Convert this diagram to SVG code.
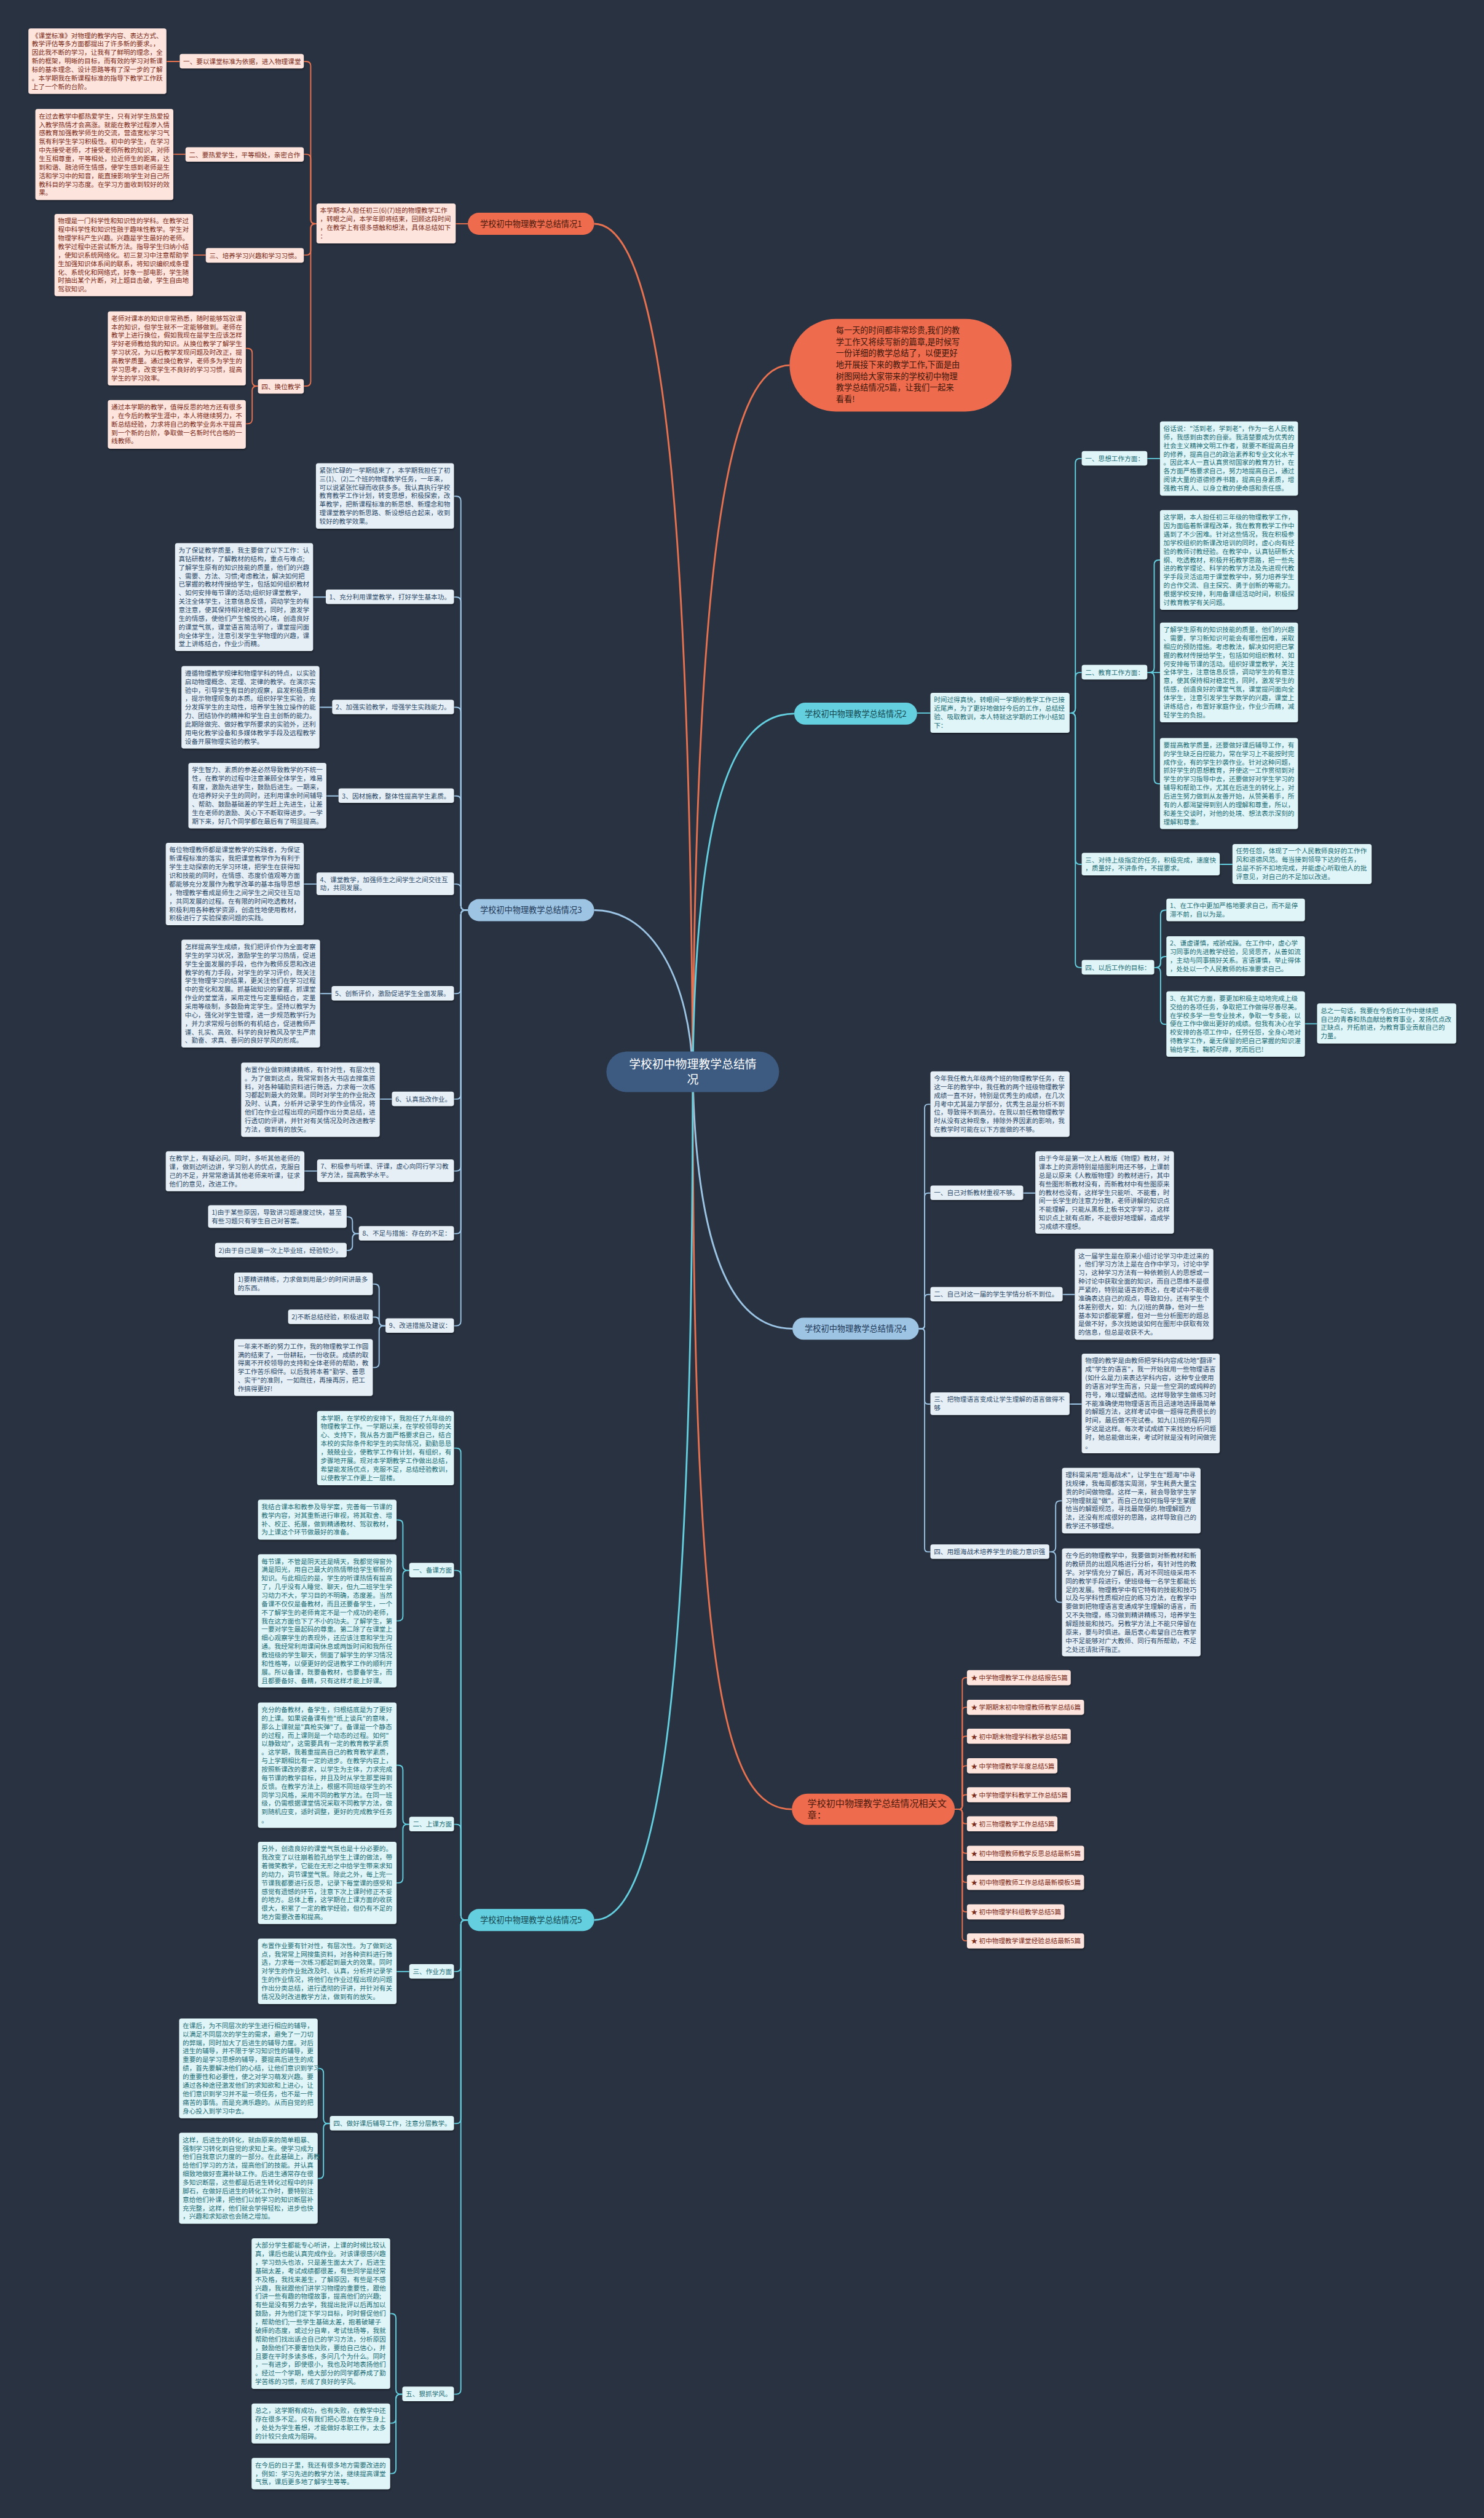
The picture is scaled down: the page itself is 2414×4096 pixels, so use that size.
<svg xmlns="http://www.w3.org/2000/svg" width="2414" height="4096" viewBox="0 0 2414 4096">
<defs><filter id="sh" x="-5%" y="-5%" width="112%" height="120%"><feDropShadow dx="1" dy="2" stdDeviation="1.5" flood-color="#000" flood-opacity="0.35"/></filter></defs>
<style>
text{font-family:"Noto Sans CJK SC","Noto Sans",sans-serif;font-size:11.3px}
.o{fill:#fde4dc;filter:url(#sh)}.ot{fill:#7a2b19}
.c{fill:#dff5f7;filter:url(#sh)}.ct{fill:#1d6c75}
.b{fill:#e7eff6;filter:url(#sh)}.bt{fill:#2c4a68}
.lo{fill:none;stroke:#e8714f;stroke-width:2}
.lc{fill:none;stroke:#63cfdf;stroke-width:2}
.lb{fill:none;stroke:#9cc4e4;stroke-width:2}
.mo{fill:none;stroke:#e8714f;stroke-width:3}
.mc{fill:none;stroke:#63cfdf;stroke-width:3}
.mb{fill:none;stroke:#9cc4e4;stroke-width:3}
.nt{font-size:14px;text-anchor:middle}
</style>
<rect width="2414" height="4096" fill="#293241"/>
<g transform="scale(0.943)">
<g id="connectors">
<path class="mo" d="M1195,1849 C1190,950 1150,386 1025,386"/>
<path class="mo" d="M1195,1849 C1200,1000 1250,630 1362,630"/>
<path class="mc" d="M1195,1849 C1200,1400 1260,1231 1370,1231"/>
<path class="mb" d="M1195,1849 C1190,1700 1130,1570 1025,1570"/>
<path class="mb" d="M1195,1849 C1200,2150 1260,2292 1367,2292"/>
<path class="mo" d="M1195,1849 C1195,2900 1250,3121 1366,3121"/>
<path class="mc" d="M1195,1849 C1195,2900 1140,3312 1025,3312"/>
<path class="lo" d="M807,386 H786"/>
<path class="lo" d="M546,386 L544,386 Q536,386 536,378 L536,114 Q536,106 528,106 L524,106"/>
<path class="lo" d="M546,386 L544,386 Q536,386 536,378 L536,274 Q536,266 528,266 L524,266"/>
<path class="lo" d="M546,386 L544,386 Q536,386 536,394 L536,432 Q536,440 528,440 L524,440"/>
<path class="lo" d="M546,386 L544,386 Q536,386 536,394 L536,658 Q536,666 528,666 L524,666"/>
<path class="lo" d="M310,106 H287 M320,266 H299 M355,440 H333"/>
<path class="lo" d="M445,666 L443,666 Q435,666 435,658 L435,609 Q435,601 427,601 L424,601"/>
<path class="lo" d="M445,666 L443,666 Q435,666 435,674 L435,723 Q435,731 427,731 L424,731"/>
<path class="lc" d="M1582,1230 H1605"/>
<path class="lc" d="M1845,1230 L1847,1230 Q1855,1230 1855,1222 L1855,799 Q1855,791 1863,791 L1866,791"/>
<path class="lc" d="M1845,1230 L1847,1230 Q1855,1230 1855,1222 L1855,1168 Q1855,1160 1863,1160 L1866,1160"/>
<path class="lc" d="M1845,1230 L1847,1230 Q1855,1230 1855,1238 L1855,1483 Q1855,1491 1863,1491 L1866,1491"/>
<path class="lc" d="M1845,1230 L1847,1230 Q1855,1230 1855,1238 L1855,1661 Q1855,1669 1863,1669 L1866,1669"/>
<path class="lc" d="M1979,791 H2001 M1979,1160 H2001 M2104,1491 H2126 M2251,1766 H2272"/>
<path class="lc" d="M1979,1160 L1983,1160 Q1991,1160 1991,1152 L1991,974 Q1991,966 1999,966 L2001,966"/>
<path class="lc" d="M1979,1160 L1983,1160 Q1991,1160 1991,1168 L1991,1344 Q1991,1352 1999,1352 L2001,1352"/>
<path class="lc" d="M1991,1669 L1994,1669 Q2002,1669 2002,1661 L2002,1578 Q2002,1570 2010,1570 L2012,1570"/>
<path class="lc" d="M1991,1669 L1994,1669 Q2002,1669 2002,1661 L2002,1658 Q2002,1650 2010,1650 L2012,1650"/>
<path class="lc" d="M1991,1669 L1994,1669 Q2002,1669 2002,1677 L2002,1759 Q2002,1767 2010,1767 L2012,1767"/>
<path class="lb" d="M1585,2292 L1589,2292 Q1595,2292 1595,2286 L1595,1911 Q1595,1905 1601,1905 L1605,1905"/>
<path class="lb" d="M1585,2292 L1589,2292 Q1595,2292 1595,2286 L1595,2064 Q1595,2058 1601,2058 L1605,2058"/>
<path class="lb" d="M1585,2292 L1589,2292 Q1595,2292 1595,2286 L1595,2239 Q1595,2233 1601,2233 L1605,2233"/>
<path class="lb" d="M1585,2292 L1589,2292 Q1595,2292 1595,2298 L1595,2416 Q1595,2422 1601,2422 L1605,2422"/>
<path class="lb" d="M1585,2292 L1589,2292 Q1595,2292 1595,2298 L1595,2671 Q1595,2677 1601,2677 L1605,2677"/>
<path class="lb" d="M1765,2058 H1786 M1833,2233 H1854 M1845,2422 H1866"/>
<path class="lb" d="M1810,2677 L1813,2677 Q1821,2677 1821,2669 L1821,2597 Q1821,2589 1829,2589 L1832,2589"/>
<path class="lb" d="M1810,2677 L1813,2677 Q1821,2677 1821,2685 L1821,2756 Q1821,2764 1829,2764 L1832,2764"/>
<path class="lo" d="M1647,3121 L1654,3121 Q1660,3121 1660,3115 L1660,2900 Q1660,2894 1666,2894 L1668,2894"/>
<path class="lo" d="M1647,3121 L1654,3121 Q1660,3121 1660,3115 L1660,2951 Q1660,2945 1666,2945 L1668,2945"/>
<path class="lo" d="M1647,3121 L1654,3121 Q1660,3121 1660,3115 L1660,3001 Q1660,2995 1666,2995 L1668,2995"/>
<path class="lo" d="M1647,3121 L1654,3121 Q1660,3121 1660,3115 L1660,3052 Q1660,3046 1666,3046 L1668,3046"/>
<path class="lo" d="M1647,3121 L1654,3121 Q1660,3121 1660,3115 L1660,3102 Q1660,3096 1666,3096 L1668,3096"/>
<path class="lo" d="M1647,3121 L1654,3121 Q1660,3121 1660,3127 L1660,3140 Q1660,3146 1666,3146 L1668,3146"/>
<path class="lo" d="M1647,3121 L1654,3121 Q1660,3121 1660,3127 L1660,3191 Q1660,3197 1666,3197 L1668,3197"/>
<path class="lo" d="M1647,3121 L1654,3121 Q1660,3121 1660,3127 L1660,3241 Q1660,3247 1666,3247 L1668,3247"/>
<path class="lo" d="M1647,3121 L1654,3121 Q1660,3121 1660,3127 L1660,3292 Q1660,3298 1666,3298 L1668,3298"/>
<path class="lo" d="M1647,3121 L1654,3121 Q1660,3121 1660,3127 L1660,3342 Q1660,3348 1666,3348 L1668,3348"/>
<path class="lb" d="M807,1570 L803,1570 Q795,1570 795,1562 L795,864 Q795,856 787,856 L783,856"/>
<path class="lb" d="M807,1570 L803,1570 Q795,1570 795,1562 L795,1038 Q795,1030 787,1030 L783,1030"/>
<path class="lb" d="M807,1570 L803,1570 Q795,1570 795,1562 L795,1228 Q795,1220 787,1220 L783,1220"/>
<path class="lb" d="M807,1570 L803,1570 Q795,1570 795,1562 L795,1381 Q795,1373 787,1373 L783,1373"/>
<path class="lb" d="M807,1570 L803,1570 Q795,1570 795,1562 L795,1533 Q795,1525 787,1525 L783,1525"/>
<path class="lb" d="M807,1570 L803,1570 Q795,1570 795,1578 L795,1706 Q795,1714 787,1714 L783,1714"/>
<path class="lb" d="M807,1570 L803,1570 Q795,1570 795,1578 L795,1888 Q795,1896 787,1896 L783,1896"/>
<path class="lb" d="M807,1570 L803,1570 Q795,1570 795,1578 L795,2012 Q795,2020 787,2020 L783,2020"/>
<path class="lb" d="M807,1570 L803,1570 Q795,1570 795,1578 L795,2120 Q795,2128 787,2128 L783,2128"/>
<path class="lb" d="M807,1570 L803,1570 Q795,1570 795,1578 L795,2279 Q795,2287 787,2287 L783,2287"/>
<path class="lb" d="M562,1030 H540 M573,1220 H551 M584,1373 H563 M546,1525 H524 M572,1714 H552 M676,1896 H655 M547,2020 H525"/>
<path class="lb" d="M619,2128 L616,2128 Q608,2128 608,2120 L608,2107 Q608,2099 600,2099 L598,2099"/>
<path class="lb" d="M619,2128 L616,2128 Q608,2128 608,2136 L608,2149 Q608,2157 600,2157 L598,2157"/>
<path class="lb" d="M665,2287 L662,2287 Q654,2287 654,2279 L654,2223 Q654,2215 646,2215 L643,2215"/>
<path class="lb" d="M665,2287 L661,2287 Q654,2287 654,2280 Q654,2272 647,2272 L643,2272"/>
<path class="lb" d="M665,2287 L662,2287 Q654,2287 654,2295 L654,2351 Q654,2359 646,2359 L643,2359"/>
<path class="lc" d="M807,3312 L803,3312 Q795,3312 795,3304 L795,2506 Q795,2498 787,2498 L783,2498"/>
<path class="lc" d="M807,3312 L803,3312 Q795,3312 795,3304 L795,2717 Q795,2709 787,2709 L783,2709"/>
<path class="lc" d="M807,3312 L803,3312 Q795,3312 795,3304 L795,3155 Q795,3147 787,3147 L783,3147"/>
<path class="lc" d="M807,3312 L803,3312 Q795,3312 795,3320 L795,3393 Q795,3401 787,3401 L783,3401"/>
<path class="lc" d="M807,3312 L803,3312 Q795,3312 795,3320 L795,3655 Q795,3663 787,3663 L783,3663"/>
<path class="lc" d="M807,3312 L803,3312 Q795,3312 795,3320 L795,4122 Q795,4130 787,4130 L783,4130"/>
<path class="lc" d="M706,2709 L703,2709 Q695,2709 695,2701 L695,2630 Q695,2622 687,2622 L684,2622"/>
<path class="lc" d="M706,2709 L703,2709 Q695,2709 695,2717 L695,2788 Q695,2796 687,2796 L684,2796"/>
<path class="lc" d="M706,3147 L703,3147 Q695,3147 695,3139 L695,3053 Q695,3045 687,3045 L684,3045"/>
<path class="lc" d="M706,3147 L703,3147 Q695,3147 695,3155 L695,3240 Q695,3248 687,3248 L684,3248"/>
<path class="lc" d="M706,3401 H684"/>
<path class="lc" d="M569,3663 L566,3663 Q558,3663 558,3655 L558,3576 Q558,3568 550,3568 L548,3568"/>
<path class="lc" d="M569,3663 L566,3663 Q558,3663 558,3671 L558,3750 Q558,3758 550,3758 L548,3758"/>
<path class="lc" d="M694,4130 L691,4130 Q683,4130 683,4122 L683,3999 Q683,3991 675,3991 L673,3991"/>
<path class="lc" d="M694,4130 L691,4130 Q683,4130 683,4138 L683,4172 Q683,4180 675,4180 L673,4180"/>
<path class="lc" d="M694,4130 L691,4130 Q683,4130 683,4138 L683,4259 Q683,4267 675,4267 L673,4267"/>
</g>

<g id="center"><rect x="1046" y="1814" width="298" height="70" rx="35" fill="#3d5a80"/><text x="1195" y="1843" text-anchor="middle" fill="#ffffff" style="font-size:20px">学校初中物理教学总结情<tspan x="1195" dy="27">况</tspan></text></g>

<g id="intro"><rect x="1362" y="550" width="383" height="160" rx="80" fill="#ee6c4d"/><text x="1442" y="575" fill="#3b160c" style="font-size:14px"><tspan x="1442">每一天的时间都非常珍贵,我们的教</tspan><tspan x="1442" dy="19.7">学工作又将续写新的篇章,是时候写</tspan><tspan x="1442" dy="19.7">一份详细的教学总结了，以便更好</tspan><tspan x="1442" dy="19.7">地开展接下来的教学工作,下面是由</tspan><tspan x="1442" dy="19.7">树图网给大家带来的学校初中物理</tspan><tspan x="1442" dy="19.7">教学总结情况5篇，让我们一起来</tspan><tspan x="1442" dy="19.7">看看!</tspan></text></g>

<g id="b1"><rect x="807" y="367" width="218" height="38" rx="19" fill="#ee6c4d"/><text class="nt" x="916" y="391" fill="#4a1a0e">学校初中物理教学总结情况1</text></g>
<g id="b1_intro"><rect class="o" x="546" y="351" width="240" height="69" rx="4"/><text class="ot" x="552" y="367.3"><tspan x="552">本学期本人担任初三(6)(7)班的物理教学工作</tspan><tspan x="552" dy="14.7">，转眼之间，本学年即将结束，回顾这段时间</tspan><tspan x="552" dy="14.7">，在教学上有很多感触和想法，具体总结如下</tspan><tspan x="552" dy="14.7">：</tspan></text></g>
<g id="b1_1"><rect class="o" x="310" y="93" width="214" height="25" rx="4"/><text class="ot" x="316" y="110">一、要以课堂标准为依据，进入物理课堂</text></g>
<g id="b1_2"><rect class="o" x="320" y="254" width="204" height="25" rx="4"/><text class="ot" x="326" y="271">二、要热爱学生，平等相处，亲密合作</text></g>
<g id="b1_3"><rect class="o" x="355" y="428" width="169" height="25" rx="4"/><text class="ot" x="361" y="445">三、培养学习兴趣和学习习惯。</text></g>
<g id="b1_4"><rect class="o" x="445" y="654" width="79" height="25" rx="4"/><text class="ot" x="451" y="671">四、换位教学</text></g>
<g id="b1_1c"><rect class="o" x="49" y="49" width="238" height="113" rx="4"/><text class="ot" x="55" y="65.3"><tspan x="55">《课堂标准》对物理的教学内容、表达方式、</tspan><tspan x="55" dy="14.7">教学评估等多方面都提出了许多新的要求。，</tspan><tspan x="55" dy="14.7">因此我不断的学习，让我有了鲜明的理念，全</tspan><tspan x="55" dy="14.7">新的框架，明晰的目标，而有效的学习对新课</tspan><tspan x="55" dy="14.7">标的基本理念、设计思路等有了深一步的了解</tspan><tspan x="55" dy="14.7">。本学期我在新课程标准的指导下教学工作跃</tspan><tspan x="55" dy="14.7">上了一个新的台阶。</tspan></text></g>
<g id="b1_2c"><rect class="o" x="61" y="188" width="238" height="157" rx="4"/><text class="ot" x="67" y="204.3"><tspan x="67">在过去教学中都热爱学生，只有对学生热爱投</tspan><tspan x="67" dy="14.7">入教学热情才会高涨。就能在教学过程渗入情</tspan><tspan x="67" dy="14.7">感教育加强教学师生的交流，营造宽松学习气</tspan><tspan x="67" dy="14.7">氛有利学生学习积极性。初中的学生，在学习</tspan><tspan x="67" dy="14.7">中先接受老师，才接受老师所教的知识，对师</tspan><tspan x="67" dy="14.7">生互相尊重，平等相处，拉近师生的距离，达</tspan><tspan x="67" dy="14.7">到和谐、融洽师生情感，使学生感到老师是生</tspan><tspan x="67" dy="14.7">活和学习中的知音，能直接影响学生对自己所</tspan><tspan x="67" dy="14.7">教科目的学习态度。在学习方面收到较好的效</tspan><tspan x="67" dy="14.7">果。</tspan></text></g>
<g id="b1_3c"><rect class="o" x="94" y="369" width="239" height="142" rx="4"/><text class="ot" x="100" y="385.3"><tspan x="100">物理是一门科学性和知识性的学科。在教学过</tspan><tspan x="100" dy="14.7">程中科学性和知识性融于趣味性教学。学生对</tspan><tspan x="100" dy="14.7">物理学科产生兴趣。兴趣是学生最好的老师。</tspan><tspan x="100" dy="14.7">教学过程中还尝试新方法。指导学生归纳小结</tspan><tspan x="100" dy="14.7">，使知识系统网络化。初三复习中注意帮助学</tspan><tspan x="100" dy="14.7">生加强知识体系间的联系，将知识编织成条理</tspan><tspan x="100" dy="14.7">化、系统化和网络式，好象一部电影，学生随</tspan><tspan x="100" dy="14.7">时抽出某个片断，对上题目击破，学生自由地</tspan><tspan x="100" dy="14.7">驾驭知识。</tspan></text></g>
<g id="b1_4c1"><rect class="o" x="186" y="537" width="238" height="128" rx="4"/><text class="ot" x="192" y="553.3"><tspan x="192">老师对课本的知识非常熟悉，随时能够驾驭课</tspan><tspan x="192" dy="14.7">本的知识，但学生就不一定能够做到。老师在</tspan><tspan x="192" dy="14.7">教学上进行换位，假如我现在是学生应该怎样</tspan><tspan x="192" dy="14.7">学好老师教给我的知识。从换位教学了解学生</tspan><tspan x="192" dy="14.7">学习状况，为以后教学发现问题及时改正，提</tspan><tspan x="192" dy="14.7">高教学质量。通过换位教学，老师多为学生的</tspan><tspan x="192" dy="14.7">学习思考，改变学生不良好的学习习惯，提高</tspan><tspan x="192" dy="14.7">学生的学习效率。</tspan></text></g>
<g id="b1_4c2"><rect class="o" x="186" y="690" width="238" height="84" rx="4"/><text class="ot" x="192" y="706.3"><tspan x="192">通过本学期的教学，值得反思的地方还有很多</tspan><tspan x="192" dy="14.7">，在今后的教学生涯中，本人将继续努力，不</tspan><tspan x="192" dy="14.7">断总结经验，力求将自己的教学业务水平提高</tspan><tspan x="192" dy="14.7">到一个新的台阶，争取做一名新时代合格的一</tspan><tspan x="192" dy="14.7">线教师。</tspan></text></g>

<g id="b2"><rect x="1370" y="1212" width="212" height="38" rx="19" fill="#63cfdf"/><text class="nt" x="1476" y="1236" fill="#174850">学校初中物理教学总结情况2</text></g>
<g id="b2_intro"><rect class="c" x="1605" y="1195" width="240" height="69" rx="4"/><text class="ct" x="1611" y="1211.3"><tspan x="1611">时间过得真快，转眼间一学期的教学工作已接</tspan><tspan x="1611" dy="14.7">近尾声，为了更好地做好今后的工作，总结经</tspan><tspan x="1611" dy="14.7">验、吸取教训，本人特就这学期的工作小结如</tspan><tspan x="1611" dy="14.7">下：</tspan></text></g>
<g id="b2_1"><rect class="c" x="1866" y="778" width="113" height="25" rx="4"/><text class="ct" x="1872" y="795">一、思想工作方面：</text></g>
<g id="b2_1c"><rect class="c" x="2001" y="727" width="238" height="128" rx="4"/><text class="ct" x="2007" y="743.3"><tspan x="2007">俗话说："活到老，学到老"，作为一名人民教</tspan><tspan x="2007" dy="14.7">师，我感到由衷的自豪。我清楚要成为优秀的</tspan><tspan x="2007" dy="14.7">社会主义精神文明工作者，就要不断提高自身</tspan><tspan x="2007" dy="14.7">的修养，提高自己的政治素养和专业文化水平</tspan><tspan x="2007" dy="14.7">。因此本人一直认真贯彻国家的教育方针，在</tspan><tspan x="2007" dy="14.7">各方面严格要求自己，努力地提高自己，通过</tspan><tspan x="2007" dy="14.7">阅读大量的道德修养书籍，提高自身素质，增</tspan><tspan x="2007" dy="14.7">强教书育人、以身立教的使命感和责任感。</tspan></text></g>
<g id="b2_2"><rect class="c" x="1866" y="1147" width="113" height="25" rx="4"/><text class="ct" x="1872" y="1164">二、教育工作方面：</text></g>
<g id="b2_2c1"><rect class="c" x="2001" y="880" width="238" height="172" rx="4"/><text class="ct" x="2007" y="896.3"><tspan x="2007">这学期，本人担任初三年级的物理教学工作，</tspan><tspan x="2007" dy="14.7">因为面临着新课程改革，我在教育教学工作中</tspan><tspan x="2007" dy="14.7">遇到了不少困难。针对这些情况，我在积极参</tspan><tspan x="2007" dy="14.7">加学校组织的新课改培训的同时，虚心向有经</tspan><tspan x="2007" dy="14.7">验的教师讨教经验。在教学中，认真钻研新大</tspan><tspan x="2007" dy="14.7">纲、吃透教材，积极开拓教学思路，把一些先</tspan><tspan x="2007" dy="14.7">进的教学理论、科学的教学方法及先进现代教</tspan><tspan x="2007" dy="14.7">学手段灵活运用于课堂教学中，努力培养学生</tspan><tspan x="2007" dy="14.7">的合作交流、自主探究、勇于创新的等能力。</tspan><tspan x="2007" dy="14.7">根据学校安排，利用备课组活动时间，积极探</tspan><tspan x="2007" dy="14.7">讨教育教学有关问题。</tspan></text></g>
<g id="b2_2c2"><rect class="c" x="2001" y="1074" width="238" height="172" rx="4"/><text class="ct" x="2007" y="1090.3"><tspan x="2007">了解学生原有的知识技能的质量，他们的兴趣</tspan><tspan x="2007" dy="14.7">、需要，学习新知识可能会有哪些困难，采取</tspan><tspan x="2007" dy="14.7">相应的预防措施。考虑教法，解决如何把已掌</tspan><tspan x="2007" dy="14.7">握的教材传授给学生，包括如何组织教材、如</tspan><tspan x="2007" dy="14.7">何安排每节课的活动。组织好课堂教学，关注</tspan><tspan x="2007" dy="14.7">全体学生，注意信息反馈，调动学生的有意注</tspan><tspan x="2007" dy="14.7">意，使其保持相对稳定性，同时，激发学生的</tspan><tspan x="2007" dy="14.7">情感，创造良好的课堂气氛，课堂提问面向全</tspan><tspan x="2007" dy="14.7">体学生，注意引发学生学数学的兴趣，课堂上</tspan><tspan x="2007" dy="14.7">讲练结合，布置好家庭作业，作业少而精，减</tspan><tspan x="2007" dy="14.7">轻学生的负担。</tspan></text></g>
<g id="b2_2c3"><rect class="c" x="2001" y="1273" width="238" height="157" rx="4"/><text class="ct" x="2007" y="1289.3"><tspan x="2007">要提高教学质量，还要做好课后辅导工作，有</tspan><tspan x="2007" dy="14.7">的学生缺乏自控能力，常在学习上不能按时完</tspan><tspan x="2007" dy="14.7">成作业，有的学生抄袭作业。针对这种问题，</tspan><tspan x="2007" dy="14.7">抓好学生的思想教育，并使这一工作贯彻到对</tspan><tspan x="2007" dy="14.7">学生的学习指导中去，还要做好对学生学习的</tspan><tspan x="2007" dy="14.7">辅导和帮助工作，尤其在后进生的转化上，对</tspan><tspan x="2007" dy="14.7">后进生努力做到从友善开始，从赞美着手，所</tspan><tspan x="2007" dy="14.7">有的人都渴望得到别人的理解和尊重，所以，</tspan><tspan x="2007" dy="14.7">和差生交谈时，对他的处境、想法表示深刻的</tspan><tspan x="2007" dy="14.7">理解和尊重。</tspan></text></g>
<g id="b2_3"><rect class="c" x="1866" y="1471" width="238" height="39" rx="4"/><text class="ct" x="1872" y="1487.3"><tspan x="1872">三、对待上级指定的任务，积极完成，速度快</tspan><tspan x="1872" dy="14.7">，质量好，不讲条件，不提要求。</tspan></text></g>
<g id="b2_3c"><rect class="c" x="2126" y="1456" width="240" height="69" rx="4"/><text class="ct" x="2132" y="1472.3"><tspan x="2132">任劳任怨，体现了一个人民教师良好的工作作</tspan><tspan x="2132" dy="14.7">风和道德风范。每当接到领导下达的任务，</tspan><tspan x="2132" dy="14.7">总是不折不扣地完成，并能虚心听取他人的批</tspan><tspan x="2132" dy="14.7">评意见，对自己的不足加以改进。</tspan></text></g>
<g id="b2_4"><rect class="c" x="1866" y="1656" width="125" height="25" rx="4"/><text class="ct" x="1872" y="1673">四、以后工作的目标：</text></g>
<g id="b2_4c1"><rect class="c" x="2012" y="1550" width="239" height="39" rx="4"/><text class="ct" x="2018" y="1566.3"><tspan x="2018">1、在工作中更加严格地要求自己，而不是停</tspan><tspan x="2018" dy="14.7">滞不前，自以为是。</tspan></text></g>
<g id="b2_4c2"><rect class="c" x="2012" y="1615" width="239" height="69" rx="4"/><text class="ct" x="2018" y="1631.3"><tspan x="2018">2、谦虚谨慎，戒骄戒躁。在工作中，虚心学</tspan><tspan x="2018" dy="14.7">习同事的先进教学经验，见贤思齐，从善如流</tspan><tspan x="2018" dy="14.7">，主动与同事搞好关系。言语谨慎，举止得体</tspan><tspan x="2018" dy="14.7">，处处以一个人民教师的标准要求自己。</tspan></text></g>
<g id="b2_4c3"><rect class="c" x="2012" y="1710" width="239" height="113" rx="4"/><text class="ct" x="2018" y="1726.3"><tspan x="2018">3、在其它方面，要更加积极主动地完成上级</tspan><tspan x="2018" dy="14.7">交给的各项任务，争取把工作做得尽善尽美。</tspan><tspan x="2018" dy="14.7">在学校多学一些专业技术，争取一专多能，以</tspan><tspan x="2018" dy="14.7">便在工作中做出更好的成绩。但我有决心在学</tspan><tspan x="2018" dy="14.7">校安排的各项工作中，任劳任怨，全身心地对</tspan><tspan x="2018" dy="14.7">待教学工作，毫无保留的把自己掌握的知识灌</tspan><tspan x="2018" dy="14.7">输给学生，鞠躬尽瘁，死而后已!</tspan></text></g>
<g id="b2_4c3c"><rect class="c" x="2272" y="1731" width="240" height="69" rx="4"/><text class="ct" x="2278" y="1747.3"><tspan x="2278">总之一句话，我要在今后的工作中继续把</tspan><tspan x="2278" dy="14.7">自己的青春和热血献给教育事业，发扬优点改</tspan><tspan x="2278" dy="14.7">正缺点，开拓前进，为教育事业贡献自己的</tspan><tspan x="2278" dy="14.7">力量。</tspan></text></g>

<g id="b4"><rect x="1367" y="2273" width="218" height="38" rx="19" fill="#9ec4e3"/><text class="nt" x="1476" y="2297" fill="#1e3a58">学校初中物理教学总结情况4</text></g>
<g id="b4_intro"><rect class="b" x="1605" y="1848" width="240" height="113" rx="4"/><text class="bt" x="1611" y="1864.3"><tspan x="1611">今年我任教九年级两个班的物理教学任务，在</tspan><tspan x="1611" dy="14.7">这一年的教学中，我任教的两个班级物理教学</tspan><tspan x="1611" dy="14.7">成绩一直不好，特别是优秀生的成绩，在几次</tspan><tspan x="1611" dy="14.7">月考中尤其是力学部分，优秀生总是分析不到</tspan><tspan x="1611" dy="14.7">位，导致得不到高分。在我以前任教物理教学</tspan><tspan x="1611" dy="14.7">时从没有这种现象，排除外界因素的影响，我</tspan><tspan x="1611" dy="14.7">在教学时可能在以下方面做的不够。</tspan></text></g>
<g id="b4_1"><rect class="b" x="1605" y="2045" width="160" height="25" rx="4"/><text class="bt" x="1611" y="2062">一、自己对新教材重视不够。</text></g>
<g id="b4_1c"><rect class="b" x="1786" y="1986" width="239" height="142" rx="4"/><text class="bt" x="1792" y="2002.3"><tspan x="1792">由于今年是第一次上人教版《物理》教材，对</tspan><tspan x="1792" dy="14.7">课本上的资源特别是插图利用还不够，上课前</tspan><tspan x="1792" dy="14.7">总是以原来《人教版物理》的教材进行，其中</tspan><tspan x="1792" dy="14.7">有些图形新教材没有，而新教材中有些图原来</tspan><tspan x="1792" dy="14.7">的教材也没有，这样学生只能听、不能看，时</tspan><tspan x="1792" dy="14.7">间一长学生的注意力分散，老师讲解的知识点</tspan><tspan x="1792" dy="14.7">不能理解，只能从黑板上板书文字学习，这样</tspan><tspan x="1792" dy="14.7">知识点上就有点断，不能很好地理解，造成学</tspan><tspan x="1792" dy="14.7">习成绩不理想。</tspan></text></g>
<g id="b4_2"><rect class="b" x="1605" y="2220" width="228" height="25" rx="4"/><text class="bt" x="1611" y="2237">二、自己对这一届的学生学情分析不到位。</text></g>
<g id="b4_2c"><rect class="b" x="1854" y="2154" width="239" height="157" rx="4"/><text class="bt" x="1860" y="2170.3"><tspan x="1860">这一届学生是在原来小组讨论学习中走过来的</tspan><tspan x="1860" dy="14.7">，他们学习方法上是在合作中学习，讨论中学</tspan><tspan x="1860" dy="14.7">习，这种学习方法有一种依赖别人的思想或一</tspan><tspan x="1860" dy="14.7">种讨论中获取全面的知识，而自己思维不是很</tspan><tspan x="1860" dy="14.7">严紧的，特别是语言的表达，在考试中不能很</tspan><tspan x="1860" dy="14.7">准确表达自己的观点，导致扣分。还有学生个</tspan><tspan x="1860" dy="14.7">体差别很大，如：九(2)班的黄静，他对一些</tspan><tspan x="1860" dy="14.7">基本知识都能掌握，但对一些分析图形的题总</tspan><tspan x="1860" dy="14.7">是做不好，多次找她谈如何在图形中获取有效</tspan><tspan x="1860" dy="14.7">的信息，但总是收获不大。</tspan></text></g>
<g id="b4_3"><rect class="b" x="1605" y="2402" width="240" height="39" rx="4"/><text class="bt" x="1611" y="2418.3"><tspan x="1611">三、把物理语言变成让学生理解的语言做得不</tspan><tspan x="1611" dy="14.7">够</tspan></text></g>
<g id="b4_3c"><rect class="b" x="1866" y="2335" width="238" height="172" rx="4"/><text class="bt" x="1872" y="2351.3"><tspan x="1872">物理的教学是由教师把学科内容成功地"翻译"</tspan><tspan x="1872" dy="14.7">成"学生的语言"，我一开始就用一些物理语言</tspan><tspan x="1872" dy="14.7">(如什么是力)来表达学科内容，这种专业使用</tspan><tspan x="1872" dy="14.7">的语言对学生而言，只是一些空洞的或纯粹的</tspan><tspan x="1872" dy="14.7">符号，难以理解透彻。这样导致学生做练习时</tspan><tspan x="1872" dy="14.7">不能准确使用物理语言而且迅速地选择最简单</tspan><tspan x="1872" dy="14.7">的解题方法，这样考试中做一题得花费很长的</tspan><tspan x="1872" dy="14.7">时间，最后做不完试卷。如九(1)班的程丹同</tspan><tspan x="1872" dy="14.7">学这是这样。每次考试成绩下来找她分析问题</tspan><tspan x="1872" dy="14.7">时，她总能做出来，考试时就是没有时间做完</tspan><tspan x="1872" dy="14.7">。</tspan></text></g>
<g id="b4_4"><rect class="b" x="1605" y="2664" width="205" height="25" rx="4"/><text class="bt" x="1611" y="2681">四、用题海战术培养学生的能力意识强</text></g>
<g id="b4_4c1"><rect class="b" x="1832" y="2532" width="239" height="113" rx="4"/><text class="bt" x="1838" y="2548.3"><tspan x="1838">理科需采用"题海战术"，让学生在"题海"中寻</tspan><tspan x="1838" dy="14.7">找规律，我每周都落实周测，学生耗费大量宝</tspan><tspan x="1838" dy="14.7">贵的时间做物理。这样一来，就会导致学生学</tspan><tspan x="1838" dy="14.7">习物理就是"做"。而自己在如何指导学生掌握</tspan><tspan x="1838" dy="14.7">恰当的解题规范，寻找最简便的.物理解题方</tspan><tspan x="1838" dy="14.7">法，还没有形成很好的思路，这样导致自己的</tspan><tspan x="1838" dy="14.7">教学还不够理想。</tspan></text></g>
<g id="b4_4c2"><rect class="b" x="1832" y="2671" width="239" height="186" rx="4"/><text class="bt" x="1838" y="2687.3"><tspan x="1838">在今后的物理教学中，我要做到对新教材和新</tspan><tspan x="1838" dy="14.7">的教研员的出题风格进行分析，有针对性的教</tspan><tspan x="1838" dy="14.7">学。对学情充分了解后，再对不同班级采用不</tspan><tspan x="1838" dy="14.7">同的教学手段进行，使班级每一名学生都能长</tspan><tspan x="1838" dy="14.7">足的发展。物理教学中有它特有的技能和技巧</tspan><tspan x="1838" dy="14.7">以及与学科性质相对应的练习方法，在教学中</tspan><tspan x="1838" dy="14.7">要做到把物理语言变通成学生理解的语言，而</tspan><tspan x="1838" dy="14.7">又不失物理，练习做到精讲精练习，培养学生</tspan><tspan x="1838" dy="14.7">解题技能和技巧。另教学方法上不能只停留在</tspan><tspan x="1838" dy="14.7">原来，要与时俱进。最后衷心希望自己在教学</tspan><tspan x="1838" dy="14.7">中不足能够对广大教师、同行有所帮助，不足</tspan><tspan x="1838" dy="14.7">之处还请批评指正。</tspan></text></g>

<g id="rel"><rect x="1366" y="3094" width="281" height="54" rx="27" fill="#ee6c4d"/><text x="1393" y="3117" fill="#4a1a0e" style="font-size:16px">学校初中物理教学总结情况相关文<tspan x="1393" dy="20">章：</tspan></text></g>
<g id="rel_1"><rect class="o" x="1668" y="2881" width="179" height="26" rx="4"/><text class="ot" x="1675" y="2898.5">★ 中学物理教学工作总结报告5篇</text></g>
<g id="rel_2"><rect class="o" x="1668" y="2932" width="202" height="26" rx="4"/><text class="ot" x="1675" y="2949.5">★ 学期期末初中物理教师教学总结6篇</text></g>
<g id="rel_3"><rect class="o" x="1668" y="2982" width="179" height="26" rx="4"/><text class="ot" x="1675" y="2999.5">★ 初中期末物理学科教学总结5篇</text></g>
<g id="rel_4"><rect class="o" x="1668" y="3033" width="156" height="26" rx="4"/><text class="ot" x="1675" y="3050.5">★ 中学物理教学年度总结5篇</text></g>
<g id="rel_5"><rect class="o" x="1668" y="3083" width="179" height="26" rx="4"/><text class="ot" x="1675" y="3100.5">★ 中学物理学科教学工作总结5篇</text></g>
<g id="rel_6"><rect class="o" x="1668" y="3133" width="156" height="26" rx="4"/><text class="ot" x="1675" y="3150.5">★ 初三物理教学工作总结5篇</text></g>
<g id="rel_7"><rect class="o" x="1668" y="3184" width="202" height="26" rx="4"/><text class="ot" x="1675" y="3201.5">★ 初中物理教师教学反思总结最新5篇</text></g>
<g id="rel_8"><rect class="o" x="1668" y="3234" width="202" height="26" rx="4"/><text class="ot" x="1675" y="3251.5">★ 初中物理教师工作总结最新模板5篇</text></g>
<g id="rel_9"><rect class="o" x="1668" y="3285" width="168" height="26" rx="4"/><text class="ot" x="1675" y="3302.5">★ 初中物理学科组教学总结5篇</text></g>
<g id="rel_10"><rect class="o" x="1668" y="3335" width="202" height="26" rx="4"/><text class="ot" x="1675" y="3352.5">★ 初中物理教学课堂经验总结最新5篇</text></g>

<g id="b3"><rect x="807" y="1551" width="218" height="38" rx="19" fill="#9ec4e3"/><text class="nt" x="916" y="1575" fill="#1e3a58">学校初中物理教学总结情况3</text></g>
<g id="b3_intro"><rect class="b" x="545" y="799" width="238" height="113" rx="4"/><text class="bt" x="551" y="815.3"><tspan x="551">紧张忙碌的一学期结束了，本学期我担任了初</tspan><tspan x="551" dy="14.7">三(1)、(2)二个班的物理教学任务，一年来，</tspan><tspan x="551" dy="14.7">可以说紧张忙碌而收获多多。我认真执行学校</tspan><tspan x="551" dy="14.7">教育教学工作计划，转变思想，积极探索，改</tspan><tspan x="551" dy="14.7">革教学，把新课程标准的新思想、新理念和物</tspan><tspan x="551" dy="14.7">理课堂教学的新思路、新设想结合起来，收到</tspan><tspan x="551" dy="14.7">较好的教学效果。</tspan></text></g>
<g id="b3_1"><rect class="b" x="562" y="1017" width="221" height="25" rx="4"/><text class="bt" x="568" y="1034">1、充分利用课堂教学，打好学生基本功。</text></g>
<g id="b3_1c"><rect class="b" x="302" y="937" width="238" height="186" rx="4"/><text class="bt" x="308" y="953.3"><tspan x="308">为了保证教学质量，我主要做了以下工作：认</tspan><tspan x="308" dy="14.7">真钻研教材，了解教材的结构，重点与难点;</tspan><tspan x="308" dy="14.7">了解学生原有的知识技能的质量，他们的兴趣</tspan><tspan x="308" dy="14.7">、需要、方法、习惯;考虑教法，解决如何把</tspan><tspan x="308" dy="14.7">已掌握的教材传授给学生，包括如何组织教材</tspan><tspan x="308" dy="14.7">、如何安排每节课的活动;组织好课堂教学，</tspan><tspan x="308" dy="14.7">关注全体学生，注意信息反馈，调动学生的有</tspan><tspan x="308" dy="14.7">意注意，使其保持相对稳定性，同时，激发学</tspan><tspan x="308" dy="14.7">生的情感，使他们产生愉悦的心境，创造良好</tspan><tspan x="308" dy="14.7">的课堂气氛，课堂语言简洁明了，课堂提问面</tspan><tspan x="308" dy="14.7">向全体学生，注意引发学生学物理的兴趣，课</tspan><tspan x="308" dy="14.7">堂上讲练结合，作业少而精。</tspan></text></g>
<g id="b3_2"><rect class="b" x="573" y="1207" width="210" height="25" rx="4"/><text class="bt" x="579" y="1224">2、加强实验教学，增强学生实践能力。</text></g>
<g id="b3_2c"><rect class="b" x="313" y="1149" width="238" height="142" rx="4"/><text class="bt" x="319" y="1165.3"><tspan x="319">遵循物理教学规律和物理学科的特点，以实验</tspan><tspan x="319" dy="14.7">启动物理概念、定理、定律的教学。在演示实</tspan><tspan x="319" dy="14.7">验中，引导学生有目的的观察，启发积极思维</tspan><tspan x="319" dy="14.7">，提示物理现象的本质。组织好学生实验，充</tspan><tspan x="319" dy="14.7">分发挥学生的主动性，培养学生独立操作的能</tspan><tspan x="319" dy="14.7">力、团结协作的精神和学生自主创新的能力。</tspan><tspan x="319" dy="14.7">此期除做完、做好教学所要求的实验外，还利</tspan><tspan x="319" dy="14.7">用电化教学设备和多媒体教学手段及远程教学</tspan><tspan x="319" dy="14.7">设备开展物理实验的教学。</tspan></text></g>
<g id="b3_3"><rect class="b" x="584" y="1360" width="199" height="25" rx="4"/><text class="bt" x="590" y="1377">3、因材施教，整体性提高学生素质。</text></g>
<g id="b3_3c"><rect class="b" x="325" y="1316" width="238" height="113" rx="4"/><text class="bt" x="331" y="1332.3"><tspan x="331">学生智力、素质的参差必然导致教学的不统一</tspan><tspan x="331" dy="14.7">性，在教学的过程中注意兼顾全体学生，难易</tspan><tspan x="331" dy="14.7">有度，激励先进学生，鼓励后进生。一期来，</tspan><tspan x="331" dy="14.7">在培养好尖子生的同时，还利用课余时间辅导</tspan><tspan x="331" dy="14.7">、帮助、鼓励基础差的学生赶上先进生，让差</tspan><tspan x="331" dy="14.7">生在老师的激励、关心下不断取得进步。一学</tspan><tspan x="331" dy="14.7">期下来，好几个同学都在最后有了明显提高。</tspan></text></g>
<g id="b3_4"><rect class="b" x="546" y="1505" width="237" height="39" rx="4"/><text class="bt" x="552" y="1521.3"><tspan x="552">4、课堂教学，加强师生之间学生之间交往互</tspan><tspan x="552" dy="14.7">动，共同发展。</tspan></text></g>
<g id="b3_4c"><rect class="b" x="286" y="1454" width="238" height="142" rx="4"/><text class="bt" x="292" y="1470.3"><tspan x="292">每位物理教师都是课堂教学的实践者，为保证</tspan><tspan x="292" dy="14.7">新课程标准的落实，我把课堂教学作为有利于</tspan><tspan x="292" dy="14.7">学生主动探索的无学习环境，把学生在获得知</tspan><tspan x="292" dy="14.7">识和技能的同时，在情感、态度价值观等方面</tspan><tspan x="292" dy="14.7">都能够充分发展作为教学改革的基本指导思想</tspan><tspan x="292" dy="14.7">，物理教学看成是师生之间学生之间交往互动</tspan><tspan x="292" dy="14.7">，共同发展的过程。在有限的时间吃透教材，</tspan><tspan x="292" dy="14.7">积极利用各种教学资源，创造性地使用教材，</tspan><tspan x="292" dy="14.7">积极进行了实验探索问题的实践。</tspan></text></g>
<g id="b3_5"><rect class="b" x="572" y="1701" width="211" height="25" rx="4"/><text class="bt" x="578" y="1718">5、创新评价，激励促进学生全面发展。</text></g>
<g id="b3_5c"><rect class="b" x="313" y="1621" width="239" height="186" rx="4"/><text class="bt" x="319" y="1637.3"><tspan x="319">怎样提高学生成绩，我们把评价作为全面考察</tspan><tspan x="319" dy="14.7">学生的学习状况，激励学生的学习热情，促进</tspan><tspan x="319" dy="14.7">学生全面发展的手段，也作为教师反思和改进</tspan><tspan x="319" dy="14.7">教学的有力手段，对学生的学习评价，既关注</tspan><tspan x="319" dy="14.7">学生物理学习的结果，更关注他们在学习过程</tspan><tspan x="319" dy="14.7">中的变化和发展。抓基础知识的掌握，抓课堂</tspan><tspan x="319" dy="14.7">作业的堂堂清，采用定性与定量相结合，定量</tspan><tspan x="319" dy="14.7">采用等级制，多鼓励肯定学生。坚持以教学为</tspan><tspan x="319" dy="14.7">中心，强化对学生管理，进一步规范教学行为</tspan><tspan x="319" dy="14.7">，并力求常规与创新的有机结合，促进教师严</tspan><tspan x="319" dy="14.7">谨、扎实、高效、科学的良好教风及学生严肃</tspan><tspan x="319" dy="14.7">、勤奋、求真、善问的良好学风的形成。</tspan></text></g>
<g id="b3_6"><rect class="b" x="676" y="1883" width="107" height="25" rx="4"/><text class="bt" x="682" y="1900">6、认真批改作业。</text></g>
<g id="b3_6c"><rect class="b" x="416" y="1833" width="239" height="128" rx="4"/><text class="bt" x="422" y="1849.3"><tspan x="422">布置作业做到精读精练，有针对性，有层次性</tspan><tspan x="422" dy="14.7">。为了做到这点，我常常到各大书店去搜集资</tspan><tspan x="422" dy="14.7">料，对各种辅助资料进行筛选，力求每一次练</tspan><tspan x="422" dy="14.7">习都起到最大的效果。同时对学生的作业批改</tspan><tspan x="422" dy="14.7">及时、认真，分析并记录学生的作业情况，将</tspan><tspan x="422" dy="14.7">他们在作业过程出现的问题作出分类总结，进</tspan><tspan x="422" dy="14.7">行透切的评讲，并针对有关情况及时改进教学</tspan><tspan x="422" dy="14.7">方法，做到有的放矢。</tspan></text></g>
<g id="b3_7"><rect class="b" x="547" y="2000" width="236" height="39" rx="4"/><text class="bt" x="553" y="2016.3"><tspan x="553">7、积极参与听课、评课，虚心向同行学习教</tspan><tspan x="553" dy="14.7">学方法，提高教学水平。</tspan></text></g>
<g id="b3_7c"><rect class="b" x="286" y="1986" width="239" height="69" rx="4"/><text class="bt" x="292" y="2002.3"><tspan x="292">在教学上，有疑必问。同时，多听其他老师的</tspan><tspan x="292" dy="14.7">课，做到边听边讲，学习别人的优点，克服自</tspan><tspan x="292" dy="14.7">己的不足，并常常邀请其他老师来听课，征求</tspan><tspan x="292" dy="14.7">他们的意见，改进工作。</tspan></text></g>
<g id="b3_8"><rect class="b" x="619" y="2115" width="164" height="25" rx="4"/><text class="bt" x="625" y="2132">8、不足与措施：存在的不足：</text></g>
<g id="b3_8c1"><rect class="b" x="359" y="2079" width="239" height="39" rx="4"/><text class="bt" x="365" y="2095.3"><tspan x="365">1)由于某些原因，导致讲习题速度过快，甚至</tspan><tspan x="365" dy="14.7">有些习题只有学生自己对答案。</tspan></text></g>
<g id="b3_8c2"><rect class="b" x="371" y="2144" width="227" height="25" rx="4"/><text class="bt" x="377" y="2161">2)由于自己是第一次上毕业班，经验较少。</text></g>
<g id="b3_9"><rect class="b" x="665" y="2274" width="118" height="25" rx="4"/><text class="bt" x="671" y="2291">9、改进措施及建议：</text></g>
<g id="b3_9c1"><rect class="b" x="404" y="2195" width="239" height="39" rx="4"/><text class="bt" x="410" y="2211.3"><tspan x="410">1)要精讲精练，力求做到用最少的时间讲最多</tspan><tspan x="410" dy="14.7">的东西。</tspan></text></g>
<g id="b3_9c2"><rect class="b" x="497" y="2259" width="146" height="25" rx="4"/><text class="bt" x="503" y="2276">2)不断总结经验，积极进取</text></g>
<g id="b3_9c3"><rect class="b" x="404" y="2310" width="239" height="98" rx="4"/><text class="bt" x="410" y="2326.3"><tspan x="410">一年来不断的努力工作，我的物理教学工作圆</tspan><tspan x="410" dy="14.7">满的结束了，一份耕耘，一份收获。成绩的取</tspan><tspan x="410" dy="14.7">得离不开校领导的支持和全体老师的帮助，教</tspan><tspan x="410" dy="14.7">学工作苦乐相伴。以后我将本着"勤学、善思</tspan><tspan x="410" dy="14.7">、实干"的准则，一如既往，再接再厉，把工</tspan><tspan x="410" dy="14.7">作搞得更好!</tspan></text></g>

<g id="b5"><rect x="807" y="3293" width="218" height="38" rx="19" fill="#63cfdf"/><text class="nt" x="916" y="3317" fill="#174850">学校初中物理教学总结情况5</text></g>
<g id="b5_intro"><rect class="c" x="547" y="2434" width="236" height="128" rx="4"/><text class="ct" x="553" y="2450.3"><tspan x="553">本学期，在学校的安排下，我担任了九年级的</tspan><tspan x="553" dy="14.7">物理教学工作。一学期以来，在学校领导的关</tspan><tspan x="553" dy="14.7">心、支持下，我从各方面严格要求自己，结合</tspan><tspan x="553" dy="14.7">本校的实际条件和学生的实际情况，勤勤恳恳</tspan><tspan x="553" dy="14.7">，兢兢业业，使教学工作有计划，有组织，有</tspan><tspan x="553" dy="14.7">步骤地开展。现对本学期教学工作做出总结，</tspan><tspan x="553" dy="14.7">希望能发扬优点，克服不足，总结经验教训，</tspan><tspan x="553" dy="14.7">以使教学工作更上一层楼。</tspan></text></g>
<g id="b5_1"><rect class="c" x="706" y="2696" width="77" height="25" rx="4"/><text class="ct" x="712" y="2713">一、备课方面</text></g>
<g id="b5_1c1"><rect class="c" x="445" y="2587" width="239" height="69" rx="4"/><text class="ct" x="451" y="2603.3"><tspan x="451">我结合课本和教参及导学案，完善每一节课的</tspan><tspan x="451" dy="14.7">教学内容，对其重新进行审视，将其取舍、增</tspan><tspan x="451" dy="14.7">补、校正、拓展，做到精通教材、驾驭教材，</tspan><tspan x="451" dy="14.7">为上课这个环节做最好的准备。</tspan></text></g>
<g id="b5_1c2"><rect class="c" x="445" y="2681" width="239" height="230" rx="4"/><text class="ct" x="451" y="2697.3"><tspan x="451">每节课，不管是阴天还是晴天，我都觉得窗外</tspan><tspan x="451" dy="14.7">满是阳光，用自己最大的热情带给学生崭新的</tspan><tspan x="451" dy="14.7">知识。与此相应的是，学生的听课热情有提高</tspan><tspan x="451" dy="14.7">了，几乎没有人睡觉、聊天，但九二班学生学</tspan><tspan x="451" dy="14.7">习动力不大，学习目的不明确，态度差。当然</tspan><tspan x="451" dy="14.7">备课不仅仅是备教材，而且还要备学生，一个</tspan><tspan x="451" dy="14.7">不了解学生的老师肯定不是一个成功的老师，</tspan><tspan x="451" dy="14.7">我在这方面也下了不小的功夫。了解学生，第</tspan><tspan x="451" dy="14.7">一要对学生最起码的尊重。第二除了在课堂上</tspan><tspan x="451" dy="14.7">细心观察学生的表现外，还应该注意和学生沟</tspan><tspan x="451" dy="14.7">通。我经常利用课间休息或两饭时间和我所任</tspan><tspan x="451" dy="14.7">教班级的学生聊天，侧面了解学生的学习情况</tspan><tspan x="451" dy="14.7">和性格等，以便更好的促进教学工作的顺利开</tspan><tspan x="451" dy="14.7">展。所以备课，既要备教材，也要备学生，而</tspan><tspan x="451" dy="14.7">且都要备好、备精，只有这样才能上好课。</tspan></text></g>
<g id="b5_2"><rect class="c" x="706" y="3134" width="77" height="25" rx="4"/><text class="ct" x="712" y="3151">二、上课方面</text></g>
<g id="b5_2c1"><rect class="c" x="445" y="2937" width="239" height="216" rx="4"/><text class="ct" x="451" y="2953.3"><tspan x="451">充分的备教材，备学生，归根结底是为了更好</tspan><tspan x="451" dy="14.7">的上课。如果说备课有些"纸上谈兵"的意味，</tspan><tspan x="451" dy="14.7">那么上课就是"真枪实弹"了。备课是一个静态</tspan><tspan x="451" dy="14.7">的过程，而上课则是一个动态的过程。如何"</tspan><tspan x="451" dy="14.7">以静致动"，这需要具有一定的教育教学素质</tspan><tspan x="451" dy="14.7">。这学期，我着重提高自己的教育教学素质，</tspan><tspan x="451" dy="14.7">与上学期相比有一定的进步。在教学内容上，</tspan><tspan x="451" dy="14.7">按照新课改的要求，以学生为主体，力求完成</tspan><tspan x="451" dy="14.7">每节课的教学目标，并且及时从学生那里得到</tspan><tspan x="451" dy="14.7">反馈。在教学方法上，根据不同班级学生的不</tspan><tspan x="451" dy="14.7">同学习风格，采用不同的教学方法。在同一班</tspan><tspan x="451" dy="14.7">级，仍需根据课堂情况采取不同教学方法，做</tspan><tspan x="451" dy="14.7">到随机应变，适时调整，更好的完成教学任务</tspan><tspan x="451" dy="14.7">。</tspan></text></g>
<g id="b5_2c2"><rect class="c" x="445" y="3177" width="239" height="142" rx="4"/><text class="ct" x="451" y="3193.3"><tspan x="451">另外，创造良好的课堂气氛也是十分必要的。</tspan><tspan x="451" dy="14.7">我改变了以往崩着脸孔给学生上课的做法，带</tspan><tspan x="451" dy="14.7">着微笑教学，它能在无形之中给学生带来求知</tspan><tspan x="451" dy="14.7">的动力，调节课堂气氛。除此之外，每上完一</tspan><tspan x="451" dy="14.7">节课我都要进行反思，记录下每堂课的感受和</tspan><tspan x="451" dy="14.7">感觉有遗憾的环节，注意下次上课时修正不妥</tspan><tspan x="451" dy="14.7">的地方。总体上看，这学期在上课方面的收获</tspan><tspan x="451" dy="14.7">很大，积累了一定的教学经验，但仍有不足的</tspan><tspan x="451" dy="14.7">地方需要改善和提高。</tspan></text></g>
<g id="b5_3"><rect class="c" x="706" y="3388" width="77" height="25" rx="4"/><text class="ct" x="712" y="3405">三、作业方面</text></g>
<g id="b5_3c"><rect class="c" x="445" y="3344" width="239" height="113" rx="4"/><text class="ct" x="451" y="3360.3"><tspan x="451">布置作业要有针对性，有层次性。为了做到这</tspan><tspan x="451" dy="14.7">点，我常常上网搜集资料，对各种资料进行筛</tspan><tspan x="451" dy="14.7">选，力求每一次练习都起到最大的效果。同时</tspan><tspan x="451" dy="14.7">对学生的作业批改及时、认真，分析并记录学</tspan><tspan x="451" dy="14.7">生的作业情况，将他们在作业过程出现的问题</tspan><tspan x="451" dy="14.7">作出分类总结，进行透彻的评讲，并针对有关</tspan><tspan x="451" dy="14.7">情况及时改进教学方法，做到有的放矢。</tspan></text></g>
<g id="b5_4"><rect class="c" x="569" y="3650" width="214" height="25" rx="4"/><text class="ct" x="575" y="3667">四、做好课后辅导工作，注意分层教学。</text></g>
<g id="b5_4c1"><rect class="c" x="309" y="3482" width="239" height="172" rx="4"/><text class="ct" x="315" y="3498.3"><tspan x="315">在课后，为不同层次的学生进行相应的辅导，</tspan><tspan x="315" dy="14.7">以满足不同层次的学生的需求，避免了一刀切</tspan><tspan x="315" dy="14.7">的弊端，同时加大了后进生的辅导力度。对后</tspan><tspan x="315" dy="14.7">进生的辅导，并不限于学习知识性的辅导，更</tspan><tspan x="315" dy="14.7">重要的是学习思想的辅导，要提高后进生的成</tspan><tspan x="315" dy="14.7">绩，首先要解决他们的心结，让他们意识到学习</tspan><tspan x="315" dy="14.7">的重要性和必要性，使之对学习萌发兴趣。要</tspan><tspan x="315" dy="14.7">通过各种途径激发他们的求知欲和上进心，让</tspan><tspan x="315" dy="14.7">他们意识到学习并不是一项任务，也不是一件</tspan><tspan x="315" dy="14.7">痛苦的事情。而是充满乐趣的。从而自觉的把</tspan><tspan x="315" dy="14.7">身心投入到学习中去。</tspan></text></g>
<g id="b5_4c2"><rect class="c" x="309" y="3679" width="239" height="157" rx="4"/><text class="ct" x="315" y="3695.3"><tspan x="315">这样，后进生的转化，就由原来的简单粗暴、</tspan><tspan x="315" dy="14.7">强制学习转化到自觉的求知上来。使学习成为</tspan><tspan x="315" dy="14.7">他们自我意识力度的一部分。在此基础上，再教</tspan><tspan x="315" dy="14.7">给他们学习的方法，提高他们的技能。并认真</tspan><tspan x="315" dy="14.7">细致地做好查漏补缺工作。后进生通常存在很</tspan><tspan x="315" dy="14.7">多知识断层，这些都是后进生转化过程中的拌</tspan><tspan x="315" dy="14.7">脚石，在做好后进生的转化工作时，要特别注</tspan><tspan x="315" dy="14.7">意给他们补课，把他们以前学习的知识断层补</tspan><tspan x="315" dy="14.7">充完整，这样，他们就会学得轻松，进步也快</tspan><tspan x="315" dy="14.7">，兴趣和求知欲也会随之增加。</tspan></text></g>
<g id="b5_5"><rect class="c" x="694" y="4117" width="89" height="25" rx="4"/><text class="ct" x="700" y="4134">五、狠抓学风。</text></g>
<g id="b5_5c1"><rect class="c" x="434" y="3861" width="239" height="260" rx="4"/><text class="ct" x="440" y="3877.3"><tspan x="440">大部分学生都能专心听讲，上课的时候比较认</tspan><tspan x="440" dy="14.7">真，课后也能认真完成作业。对该课很感兴趣</tspan><tspan x="440" dy="14.7">，学习劲头也浓，只是差生面太大了，后进生</tspan><tspan x="440" dy="14.7">基础太差，考试成绩都很差，有些同学是经常</tspan><tspan x="440" dy="14.7">不及格，我找来差生，了解原因，有些是不感</tspan><tspan x="440" dy="14.7">兴趣，我就跟他们讲学习物理的重要性，跟他</tspan><tspan x="440" dy="14.7">们讲一些有趣的物理故事，提高他们的兴趣;</tspan><tspan x="440" dy="14.7">有些是没有努力去学，我提出批评以后再加以</tspan><tspan x="440" dy="14.7">鼓励，并为他们定下学习目标，时时督促他们</tspan><tspan x="440" dy="14.7">，帮助他们;一些学生基础太差，抱着破罐子</tspan><tspan x="440" dy="14.7">破摔的态度，或过分自卑，考试怯场等，我就</tspan><tspan x="440" dy="14.7">帮助他们找出适合自己的学习方法，分析原因</tspan><tspan x="440" dy="14.7">，鼓励他们不要害怕失败，要给自己信心，并</tspan><tspan x="440" dy="14.7">且要在平时多读多练，多问几个为什么。同时</tspan><tspan x="440" dy="14.7">，一有进步，即使很小，我也及时地表扬他们</tspan><tspan x="440" dy="14.7">。经过一个学期，绝大部分的同学都养成了勤</tspan><tspan x="440" dy="14.7">学苦练的习惯，形成了良好的学风。</tspan></text></g>
<g id="b5_5c2"><rect class="c" x="434" y="4146" width="239" height="69" rx="4"/><text class="ct" x="440" y="4162.3"><tspan x="440">总之，这学期有成功，也有失败，在教学中还</tspan><tspan x="440" dy="14.7">存在很多不足。只有我们把心思放在学生身上</tspan><tspan x="440" dy="14.7">，处处为学生着想，才能做好本职工作，太多</tspan><tspan x="440" dy="14.7">的计较只会成为阻碍。</tspan></text></g>
<g id="b5_5c3"><rect class="c" x="434" y="4240" width="239" height="54" rx="4"/><text class="ct" x="440" y="4256.3"><tspan x="440">在今后的日子里，我还有很多地方需要改进的</tspan><tspan x="440" dy="14.7">，例如：学习先进的教学方法，继续提高课堂</tspan><tspan x="440" dy="14.7">气氛，课后更多地了解学生等等。</tspan></text></g>
</g>
</svg>
